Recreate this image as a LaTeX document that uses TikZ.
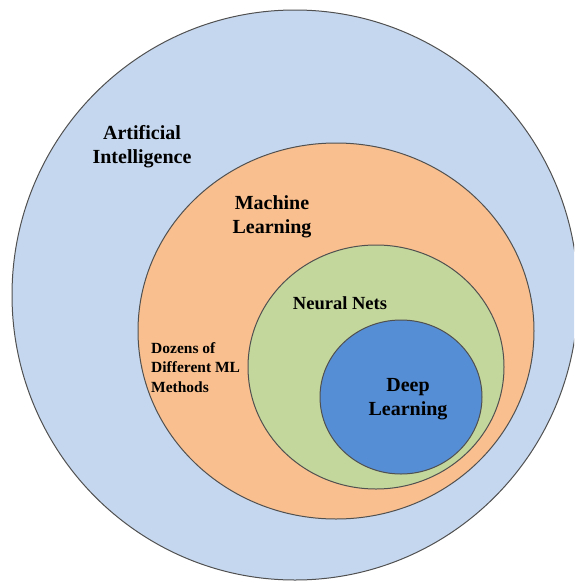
\documentclass[tikz,border=0pt]{standalone}
\usepackage{fontspec}
\setmainfont{Liberation Serif}
\definecolor{aicol}{HTML}{C5D7EE}
\definecolor{mlcol}{HTML}{F9BF8E}
\definecolor{nncol}{HTML}{C3D69B}
\definecolor{dlcol}{HTML}{558ED5}
\definecolor{edge}{HTML}{505050}
\begin{document}
\begin{tikzpicture}[x=1pt,y=-1pt,
  ring/.style={draw=edge,line width=1pt},
  lbl/.style={font=\bfseries\fontsize{20}{24}\selectfont,align=center,inner sep=0pt},
  small/.style={font=\bfseries\fontsize{15.5}{19.5}\selectfont,align=left,inner sep=0pt}]
\useasboundingbox (0,0) rectangle (574,581);
\begin{scope}
\clip (0,0) rectangle (574,581);
\fill[aicol] (295,295) ellipse [x radius=283,y radius=285];
\draw[ring] (295,295) ellipse [x radius=283,y radius=285];
\end{scope}
\filldraw[ring,fill=mlcol] (336,331) ellipse [x radius=198,y radius=188];
\filldraw[ring,fill=nncol] (376,367) ellipse [x radius=128,y radius=122];
\filldraw[ring,fill=dlcol] (401,397) ellipse [x radius=81,y radius=77];
\node[lbl] (ai) at (142,147) {Artificial\\Intelligence};
\node[lbl] (ml) at (272,217) {Machine\\Learning};
\node[lbl,font=\bfseries\fontsize{18.5}{22}\selectfont] (nn) at (340,303) {Neural Nets};
\node[lbl] (dl) at (408,399) {Deep\\Learning};
\node[small,anchor=north west] (dz) at (151,342) {Dozens of\\Different ML\\Methods};
\end{tikzpicture}
\end{document}
